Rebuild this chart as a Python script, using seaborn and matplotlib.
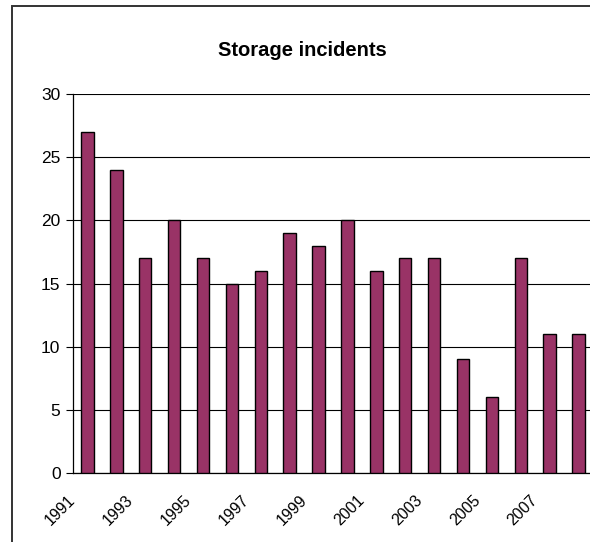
import matplotlib
matplotlib.use("Agg")
import matplotlib.pyplot as plt
import matplotlib.transforms as mtransforms
from matplotlib.patches import Rectangle
import numpy as np
import pandas as pd
import seaborn as sns

# Incident counts per year
years = [str(y) for y in range(1991, 2009)]
incidents = [27, 24, 17, 20, 17, 15, 16, 19, 18, 20, 16, 17, 17, 9, 6, 17, 11, 11]
y_ticks = [0, 5, 10, 15, 20, 25, 30]
title = "Storage incidents"

sns.set_theme(style="white")
plt.rcParams["font.family"] = ["Liberation Sans", "DejaVu Sans"]

df = pd.DataFrame({"year": years, "incidents": incidents})

fig = plt.figure(figsize=(5.9, 5.42), dpi=100)
ax = fig.add_axes([73 / 590, (542 - 472.7) / 542, 520 / 590, (472.7 - 94.3) / 542])

sns.barplot(data=df, x="year", y="incidents", color="#993366", saturation=1,
            edgecolor="black", linewidth=1.0, width=0.43, ax=ax, zorder=3)

ax.set_xlim(-0.5, len(years) - 0.5)
ax.set_ylim(0, 30)
ax.set_yticks(y_ticks)
ax.set_yticklabels([str(v) for v in y_ticks], fontsize=12.5, color="black")
ax.yaxis.grid(True, color="black", linewidth=0.8, zorder=0)
ax.set_axisbelow(True)

# Every other year labelled; tick marks sit between categories
label_pos = list(range(0, len(years), 2))
ax.set_xticks(label_pos)
ax.set_xticklabels([years[i] for i in label_pos], rotation=45, ha="right",
                   fontsize=11.5, color="black")
ax.set_xticks(np.arange(-0.5, len(years), 1.0), minor=True)
ax.tick_params(axis="x", which="major", length=0, pad=14)
ax.tick_params(axis="x", which="minor", length=5, width=0.8, color="black", direction="out")
ax.tick_params(axis="y", which="major", length=5, width=0.8, color="black",
               direction="out", pad=4, left=True)
shift = mtransforms.ScaledTranslation(-0.09, 0, fig.dpi_scale_trans)
for lbl in ax.get_xticklabels():
    lbl.set_transform(lbl.get_transform() + shift)

ax.set_xlabel("")
ax.set_ylabel("")
for side in ("top", "right"):
    ax.spines[side].set_visible(False)
for side in ("left", "bottom"):
    ax.spines[side].set_color("black")
    ax.spines[side].set_linewidth(0.9)

fig.text(302 / 590, 1 - 51 / 542, title, ha="center", va="center",
         fontsize=14.5, fontweight="bold", color="black")

# Chart-area frame
fig.patches.append(Rectangle((11.5 / 590, -0.1), 1.2, 1 - 6 / 542 + 0.1,
                             transform=fig.transFigure, fill=False,
                             edgecolor="#333333", linewidth=1.4))

fig.savefig("out.png", dpi=100)
